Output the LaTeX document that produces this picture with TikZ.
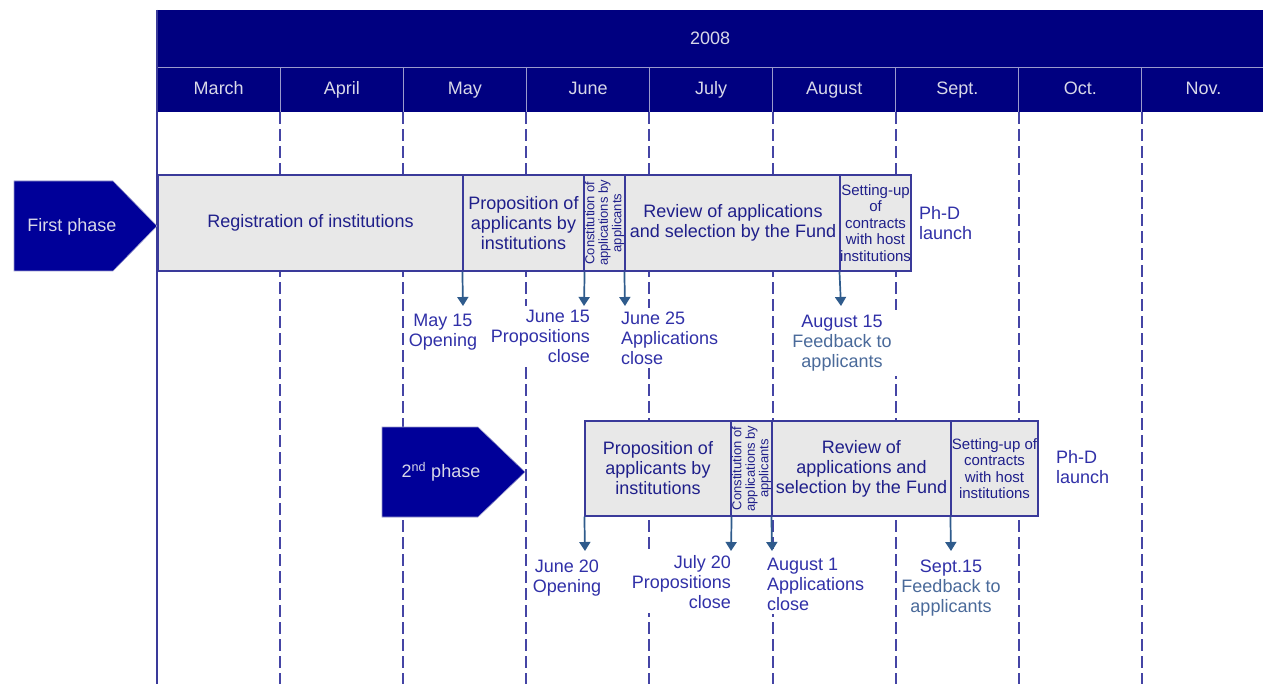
\documentclass[tikz,border=0pt]{standalone}
\usepackage{fontspec}
\setmainfont{Liberation Sans}
\usetikzlibrary{arrows.meta}
\definecolor{navy}{HTML}{000080}
\definecolor{phasec}{HTML}{000099}
\definecolor{boxline}{HTML}{3A3A9A}
\definecolor{boxfill}{HTML}{E8E8E8}
\definecolor{boxtxt}{HTML}{1F1F8A}
\definecolor{gridc}{HTML}{4545A5}
\definecolor{arrc}{HTML}{2F5B8C}
\definecolor{lblc}{HTML}{3030A8}
\definecolor{fbc}{HTML}{4A6A9A}
\definecolor{hdrtxt}{HTML}{D8D8E8}
\definecolor{sepc}{HTML}{9A9ACC}
\begin{document}
\begin{tikzpicture}[x=1pt,y=-1pt,
  ftbig/.style={font=\fontsize{18}{20}\selectfont},
  ftset/.style={font=\fontsize{15}{16.4}\selectfont},
  ftcon/.style={font=\fontsize{13}{13.5}\selectfont},
  box/.style={draw=boxline, line width=1.2pt, fill=boxfill, inner sep=0pt, text=boxtxt, align=center, ftbig},
  month/.style={fill=navy, text=hdrtxt, minimum width=123.1pt, minimum height=45pt, inner sep=0pt, anchor=north west, text height=12.5pt, text depth=3.5pt, ftbig},
  gridline/.style={draw=gridc, line width=2pt, dash pattern=on 12pt off 5pt},
  sepline/.style={draw=sepc, line width=1.2pt},
  arr/.style={draw=arrc, line width=1.7pt, -{Triangle[length=9pt,width=11pt]}},
  lbl/.style={text=lblc, inner sep=0pt, ftbig},
  wlbl/.style={lbl, fill=white, inner sep=4pt},
  phase/.style={fill=phasec, draw=sepc, line width=0.6pt},
  phasetxt/.style={text=hdrtxt, inner sep=0pt, ftbig}
]
\useasboundingbox (0,0) rectangle (1263,684);
\fill[white] (0,0) rectangle (1263,684);

% header
\node[fill=navy, text=hdrtxt, minimum width=1106pt, minimum height=57pt, inner sep=0pt, anchor=north west, ftbig] (year) at (157,10) {2008};
\foreach \m [count=\i from 0] in {March,April,May,June,July,August,Sept.,Oct.,Nov.}{
  \node[month] (m\i) at (157+123.1*\i,67) {\m};
}
\draw[sepline] (year.south west) -- (year.south east);
\foreach \i in {1,...,8}{
  \draw[sepline] (m\i.north west) -- (m\i.south west);
}

% grid lines
\coordinate (gbot) at (157,684);
\draw[draw=boxline, line width=2pt] (year.north west) -- (gbot);
\foreach \i in {1,...,8}{
  \coordinate (gb\i) at (157+123.1*\i,684);
  \draw[gridline] (m\i.south west) -- (gb\i);
}

% first phase arrow
\fill[phase] (14,181) -- (113,181) -- (157,226) -- (113,271) -- (14,271) -- cycle;
\node[phasetxt] (ph1) at (72,227) {First phase};

% row 1 boxes
\node[box, minimum width=305pt, minimum height=96pt] (reg) at (310.5,223) {Registration of institutions};
\node[box, minimum width=121pt, minimum height=96pt] (prop1) at (523.5,223) {Proposition of\\applicants by\\institutions};
\node[box, minimum width=41pt, minimum height=96pt] (con1) at (604.5,223) {};
\node[text=boxtxt, inner sep=0pt, align=center, ftcon, rotate=90] (con1t) at (con1.center) {Constitution of\\applications by\\applicants};
\node[box, minimum width=216pt, minimum height=96pt] (rev1) at (733,223) {Review of applications\\and selection by the Fund};
\node[box, ftset, minimum width=69pt, minimum height=96pt] (set1) at (875.5,223) {Setting-up\\of\\contracts\\with host\\institutions};
\node[lbl, align=left, anchor=west] (phd1) at (919,223) {Ph-D\\launch};

% row 1 labels
\node[lbl, align=center] (l1) at (443,332) {May 15\\Opening};
\node[wlbl, align=right, anchor=east] (l2) at (594,336) {June 15\\Propositions\\close};
\node[wlbl, align=left, anchor=west] (l3) at (617,338) {June 25\\Applications\\close};
\node[lbl, fill=white, align=center, minimum width=132pt, minimum height=66pt] (l4) at (842,343) {August 15\\\textcolor{fbc}{Feedback to}\\\textcolor{fbc}{applicants}};

% row 1 arrows
\coordinate (e1) at (463,306);
\coordinate (e2) at (584,306);
\coordinate (e3) at (625,306);
\coordinate (e4) at (841,306);
\draw[arr] (prop1.south west) -- (e1);
\draw[arr] (prop1.south east) -- (e2);
\draw[arr] (rev1.south west) -- (e3);
\draw[arr] (set1.south west) -- (e4);

% second phase arrow
\fill[phase] (382,427) -- (478,427) -- (525,472) -- (478,517) -- (382,517) -- cycle;
\node[phasetxt] (ph2) at (441,472) {2\textsuperscript{nd} phase};

% row 2 boxes
\node[box, minimum width=146pt, minimum height=95pt] (prop2) at (658,468.5) {Proposition of\\applicants by\\institutions};
\node[box, minimum width=41pt, minimum height=95pt] (con2) at (751.5,468.5) {};
\node[text=boxtxt, inner sep=0pt, align=center, ftcon, rotate=90] (con2t) at (con2.center) {Constitution of\\applications by\\applicants};
\node[box, minimum width=179pt, minimum height=95pt] (rev2) at (861.5,468.5) {Review of\\applications and\\selection by the Fund};
\node[box, ftset, minimum width=87pt, minimum height=95pt] (set2) at (994.5,468.5) {Setting-up of\\contracts\\with host\\institutions};
\node[lbl, align=left, anchor=west] (phd2) at (1056,467) {Ph-D\\launch};

% row 2 labels
\node[lbl, align=center] (k1) at (567,578) {June 20\\Opening};
\node[wlbl, align=right, anchor=east] (k2) at (735,582) {July 20\\Propositions\\close};
\node[wlbl, align=left, anchor=west] (k3) at (763,584) {August 1\\Applications\\close};
\node[lbl, align=center] (k4) at (951,588) {Sept.15\\\textcolor{fbc}{Feedback to}\\\textcolor{fbc}{applicants}};

% row 2 arrows
\coordinate (f1) at (585,551);
\coordinate (f2) at (731,551);
\coordinate (f3) at (772,551);
\coordinate (f4) at (951,551);
\draw[arr] (prop2.south west) -- (f1);
\draw[arr] (prop2.south east) -- (f2);
\draw[arr] (rev2.south west) -- (f3);
\draw[arr] (set2.south west) -- (f4);
\end{tikzpicture}
\end{document}
